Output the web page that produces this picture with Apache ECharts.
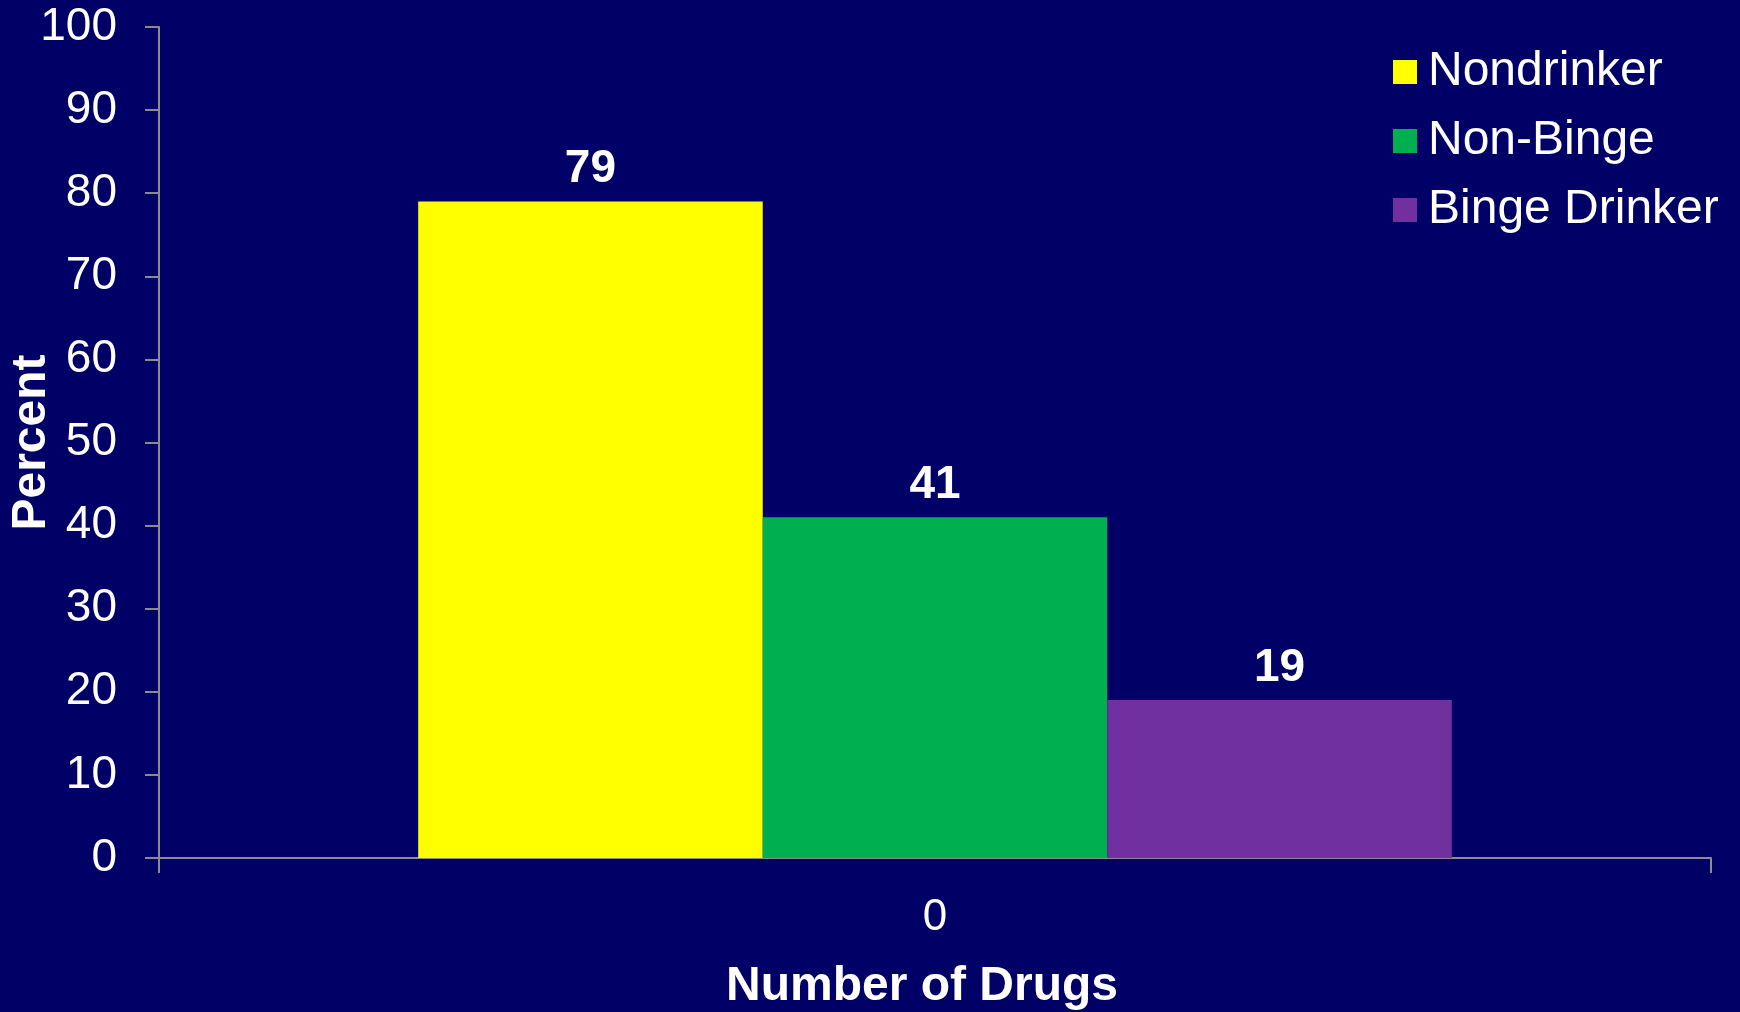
<!DOCTYPE html>
<html>
<head>
<meta charset="utf-8">
<style>
  html, body { margin: 0; padding: 0; background: #000066; }
  #chart { width: 1740px; height: 1012px; }
</style>
<script src="https://cdn.jsdelivr.net/npm/echarts@6/dist/echarts.min.js"></script>
</head>
<body>
<div id="chart"></div>
<script>
// Share of respondents reporting zero drugs, by drinking status
const categories = ['0'];
const seriesNames = ['Nondrinker', 'Non-Binge', 'Binge Drinker'];
const nondrinker = [79];
const nonBinge = [41];
const bingeDrinker = [19];
const yTicks = { min: 0, max: 100, interval: 10 };

const colors = ['#FFFF00', '#00B050', '#7030A0'];
const font = '"Liberation Sans", Arial, sans-serif';

const chart = echarts.init(document.getElementById('chart'), null, { renderer: 'canvas' });

function barSeries(name, data, color) {
  return {
    name: name,
    type: 'bar',
    data: data,
    barGap: '0%',
    barCategoryGap: '33.4%',
    itemStyle: { color: color },
    label: {
      show: true,
      position: 'top',
      distance: 9,
      color: '#ffffff',
      fontFamily: font,
      fontWeight: 'bold',
      fontSize: 46
    }
  };
}

chart.setOption({
  backgroundColor: '#000066',
  animation: false,
  grid: { left: 159, right: 29, top: 27, bottom: 154, containLabel: false, outerBoundsMode: 'none' },
  legend: {
    orient: 'vertical',
    left: 1388,
    top: 43,
    itemWidth: 24,
    itemHeight: 24,
    itemGap: 21,
    icon: 'rect',
    data: seriesNames,
    textStyle: {
      color: '#ffffff',
      fontFamily: font,
      fontSize: 48,
      lineHeight: 48,
      padding: [0, 0, 0, 6]
    }
  },
  xAxis: {
    type: 'category',
    data: categories,
    name: 'Number of Drugs',
    nameLocation: 'middle',
    nameGap: 105,
    nameMoveOverlap: false,
    nameTextStyle: {
      color: '#ffffff',
      fontFamily: font,
      fontWeight: 'bold',
      fontSize: 48,
      padding: [0, 26, 0, 0]
    },
    axisLine: { lineStyle: { color: '#8c8c8c', width: 2 } },
    axisTick: { show: true, length: 15, lineStyle: { color: '#8c8c8c', width: 2 } },
    axisLabel: {
      color: '#ffffff',
      fontFamily: font,
      fontSize: 44,
      margin: 38
    }
  },
  yAxis: {
    type: 'value',
    min: yTicks.min,
    max: yTicks.max,
    interval: yTicks.interval,
    name: 'Percent',
    nameLocation: 'middle',
    nameGap: 103,
    nameMoveOverlap: false,
    nameRotate: 90,
    nameTextStyle: {
      color: '#ffffff',
      fontFamily: font,
      fontWeight: 'bold',
      fontSize: 48
    },
    splitLine: { show: false },
    axisLine: { show: true, lineStyle: { color: '#8c8c8c', width: 2 } },
    axisTick: { show: true, length: 14, lineStyle: { color: '#8c8c8c', width: 2 } },
    axisLabel: {
      color: '#ffffff',
      fontFamily: font,
      fontSize: 46,
      margin: 42
    }
  },
  series: [
    barSeries(seriesNames[0], nondrinker, colors[0]),
    barSeries(seriesNames[1], nonBinge, colors[1]),
    barSeries(seriesNames[2], bingeDrinker, colors[2])
  ]
});
</script>
</body>
</html>
